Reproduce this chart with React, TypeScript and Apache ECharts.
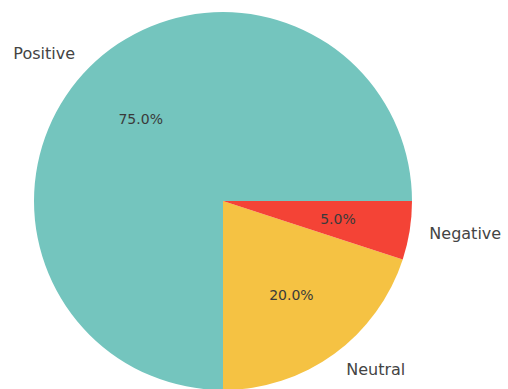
import React, { useEffect, useRef } from "react";
import * as echarts from "echarts";

const categories = ["Positive", "Neutral", "Negative"];
const values = [75, 20, 5];
const colors = ["#74c5be", "#f5c243", "#f44336"];

export default function App() {
  const ref = useRef<HTMLDivElement>(null);
  useEffect(() => {
    document.body.style.margin = "0";
    const chart = echarts.init(ref.current!, null, { renderer: "svg" });
    const R = 189;
    const center = [223, 201];
    const data = categories.map((name, i) => ({
      name,
      value: values[i],
      itemStyle: { color: colors[i] },
    }));
    chart.setOption({
      animation: false,
      backgroundColor: "#ffffff",
      series: [
        {
          type: "pie",
          radius: R,
          center,
          startAngle: 0,
          clockwise: false,
          avoidLabelOverlap: false,
          silent: true,
          itemStyle: { borderWidth: 0 },
          label: {
            show: true,
            position: "outside",
            formatter: "{b}",
            fontFamily: "DejaVu Sans",
            fontSize: 16,
            color: "#444444",
            distanceToLabelLine: 1,
          },
          labelLine: { show: false, length: R * 0.1, length2: 0 },
          data,
        },
        {
          type: "pie",
          radius: R * 1.2,
          center,
          startAngle: 0,
          clockwise: false,
          avoidLabelOverlap: false,
          silent: true,
          itemStyle: { color: "transparent", borderWidth: 0 },
          label: {
            show: true,
            position: "inside",
            formatter: (p: any) => p.value.toFixed(1) + "%",
            fontFamily: "DejaVu Sans",
            fontSize: 14,
            color: "#3a3a3a",
          },
          labelLine: { show: false },
          data: categories.map((name, i) => ({
            name,
            value: values[i],
            itemStyle: { color: "transparent" },
          })),
        },
      ],
    });
    return () => chart.dispose();
  }, []);
  return (
    <div
      ref={ref}
      style={{ width: 508, height: 389, position: "absolute", left: 0, top: 0 }}
    />
  );
}
